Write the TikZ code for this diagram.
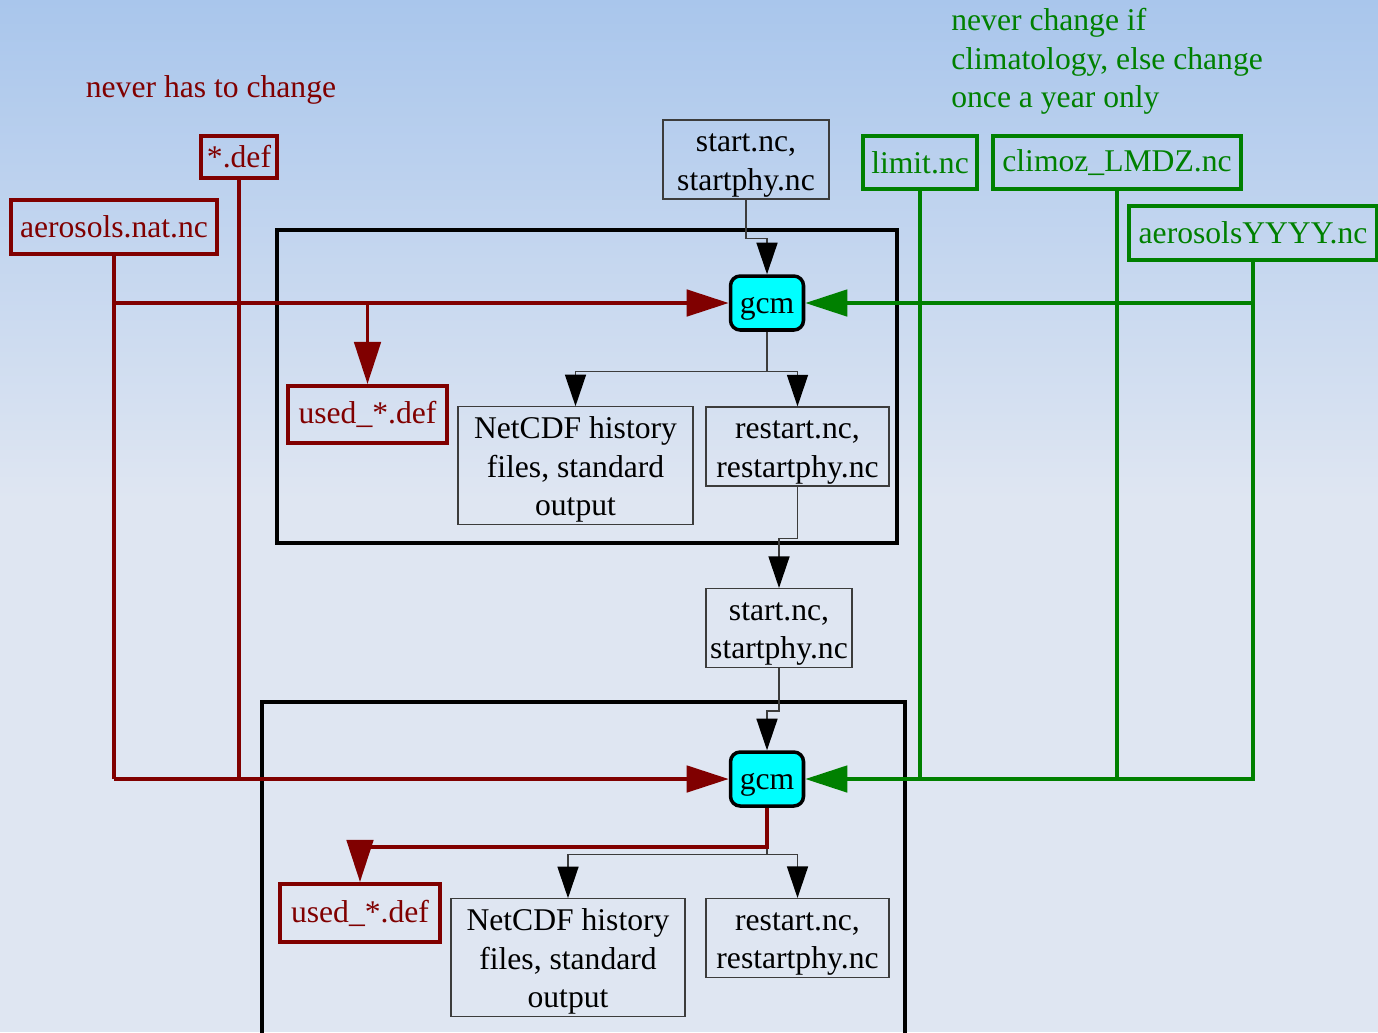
\documentclass[tikz,border=0pt]{standalone}
\usepackage{fontspec}
\setmainfont{Liberation Serif}
\usetikzlibrary{arrows.meta}
\definecolor{dkred}{RGB}{128,0,0}
\definecolor{dkgreen}{RGB}{0,128,0}
\definecolor{gcmcyan}{RGB}{0,255,255}
\definecolor{wire}{RGB}{60,60,60}
\definecolor{skytop}{RGB}{169,198,236}
\definecolor{skybot}{RGB}{223,230,242}
\newcommand{\tallstrut}{\rule{0pt}{17pt}}

\begin{document}
\begin{tikzpicture}[x=0.02cm, y=-0.02cm, font=\fontsize{18}{22}\selectfont]
    \tikzstyle{redbox} = [rectangle, draw=dkred, line width=2.2pt, text=dkred, inner sep=1pt]
    \tikzstyle{greenbox} = [rectangle, draw=dkgreen, line width=2.2pt, text=dkgreen, inner sep=1pt]
    \tikzstyle{filebox} = [rectangle, draw=wire, line width=0.7pt, align=center, inner sep=1pt]
    \tikzstyle{gcmbox} = [rectangle, rounded corners=5.5pt, draw, line width=2pt, fill=gcmcyan, minimum width=1.46cm, minimum height=1.08cm, inner sep=1pt, execute at begin node=\rule{0pt}{15.4pt}]
    \tikzstyle{frame} = [draw, line width=1.9pt]
    \tikzstyle{wireline} = [draw=wire, line width=0.8pt, -{Triangle[length=18pt, width=12pt, color=black]}]
    \tikzstyle{redline} = [draw=dkred, line width=2.2pt]
    \tikzstyle{greenline} = [draw=dkgreen, line width=2.2pt]
    \tikzstyle{feed} = [-{Triangle[length=24pt, width=15pt]}]

    \useasboundingbox (0,0) rectangle (1378,1032);
    \shade[top color=skytop, bottom color=skybot] (0,0) rectangle (1378,500);
    \fill[skybot] (0,499) rectangle (1378,1032);

    \node[text=dkred] (redtitle) at (211,90) {never has to change};
    \node[text=dkgreen, anchor=north west, align=left, inner sep=0pt] (greentitle) at (951,8)
        {never change if\\climatology, else change\\once a year only};

    \path[frame] (277,230) rectangle (897,543);
    \path[frame] (262,702) rectangle (905,1040);

    \node[redbox, minimum width=1.52cm, minimum height=0.84cm] (stardef) at (239,157) {*.def};
    \node[redbox, minimum width=4.12cm, minimum height=1.08cm] (aernat) at (114,227) {aerosols.nat.nc};
    \node[filebox, minimum width=3.32cm, minimum height=1.54cm] (startA) at (746,159.5) {\tallstrut start.nc,\\startphy.nc};
    \node[greenbox, minimum width=2.28cm, minimum height=1.06cm] (limit) at (920,162.5) {limit.nc};
    \node[greenbox, minimum width=4.96cm, minimum height=1.06cm] (climoz) at (1117,162.5) {climoz\_LMDZ.nc};
    \node[greenbox, minimum width=4.96cm, minimum height=1.08cm] (aerY) at (1253,233) {aerosolsYYYY.nc};

    \node[gcmbox] (gcmA) at (767,303) {gcm};
    \node[redbox, minimum width=3.18cm, minimum height=1.14cm] (usedA) at (367.5,414.5) {used\_*.def};
    \node[filebox, minimum width=4.70cm, minimum height=2.34cm] (histA) at (575.5,465.5) {\tallstrut NetCDF history\\files, standard\\output};
    \node[filebox, minimum width=3.66cm, minimum height=1.58cm] (restA) at (797.5,446.5) {\tallstrut restart.nc,\\restartphy.nc};

    \node[filebox, minimum width=2.92cm, minimum height=1.56cm] (startB) at (779,628) {\tallstrut start.nc,\\startphy.nc};

    \node[gcmbox] (gcmB) at (767,779) {gcm};
    \node[redbox, minimum width=3.20cm, minimum height=1.16cm] (usedB) at (360,913) {used\_*.def};
    \node[filebox, minimum width=4.68cm, minimum height=2.34cm] (histB) at (568,957.5) {\tallstrut NetCDF history\\files, standard\\output};
    \node[filebox, minimum width=3.66cm, minimum height=1.56cm] (restB) at (797.5,938) {\tallstrut restart.nc,\\restartphy.nc};

    \draw[wireline] (startA.south) -- ++(0,39) -| (gcmA.north);
    \draw[wireline] (gcmA.south) -- ++(0,40) coordinate (splitA) -| (histA.north);
    \draw[wireline] (splitA) -| (restA.north);
    \draw[wireline] (restA.south) -- ++(0,52) -| (startB.north);
    \draw[wireline] (startB.south) -- ++(0,43) -| (gcmB.north);
    \draw[wireline] (gcmB.south) -- ++(0,47) coordinate (splitB) -| (histB.north);
    \draw[wireline] (splitB) -| (restB.north);

    \draw[redline] (aernat.south) -- (aernat.south |- gcmB.west);
    \draw[redline] (stardef.south) -- (stardef.south |- gcmB.west);
    \draw[redline, feed] (aernat.south |- gcmA.west) -- (gcmA.west);
    \draw[redline, feed] (usedA.north |- gcmA.west) -- (usedA.north);
    \draw[redline, feed] (aernat.south |- gcmB.west) -- (gcmB.west);
    \draw[redline, feed] (gcmB.south) -- ++(0,39) -| (usedB.north);

    \draw[greenline] (limit.south) -- (limit.south |- gcmB.east);
    \draw[greenline] (climoz.south) -- (climoz.south |- gcmB.east);
    \draw[greenline, feed] (aerY.south) -- (aerY.south |- gcmB.east) -- (gcmB.east);
    \draw[greenline, feed] (aerY.south |- gcmA.east) -- (gcmA.east);
\end{tikzpicture}
\end{document}
